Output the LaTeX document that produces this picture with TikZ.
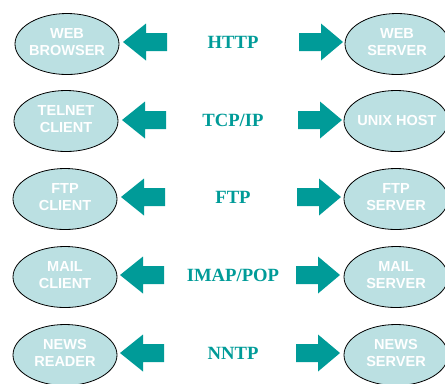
\documentclass[tikz,border=0pt]{standalone}
\usepackage{fontspec}
\setmainfont{Liberation Serif}
\setsansfont{Liberation Sans}
\usetikzlibrary{shapes.geometric}
\definecolor{tealA}{RGB}{0,155,152}
\definecolor{ellfill}{RGB}{187,224,226}
\tikzset{
  ell/.style={ellipse, draw=black, line width=0.6pt, fill=ellfill, minimum width=78pt, minimum height=45.75pt, inner sep=0pt},
  etext/.style={text=white, align=center, font=\sffamily\bfseries\fontsize{10.9pt}{12.75pt}\selectfont, inner sep=0pt},
  proto/.style={text=tealA, font=\rmfamily\bfseries\fontsize{14pt}{16pt}\selectfont, inner sep=0pt},
  larrow/.pic={\fill[tealA] (0,0) -- (23,-18.5) -- (23,-9) -- (44,-9) -- (44,9) -- (23,9) -- (23,18.5) -- cycle;},
  rarrow/.pic={\fill[tealA] (0,0) -- (-22,-18.5) -- (-22,-9) -- (-44,-9) -- (-44,9) -- (-22,9) -- (-22,18.5) -- cycle;}
}
\begin{document}
\begin{tikzpicture}[x=0.75pt,y=-0.75pt]
\useasboundingbox (0,0) rectangle (445,383);
% row 1
\node[ell] (e1l) at (67,44) {};
\node[etext] (t1l) at (67,42) {WEB\\BROWSER};
\node[ell] (e1r) at (397,44) {};
\node[etext] (t1r) at (397,42) {WEB\\SERVER};
\node[proto] (p1) at (233,42) {HTTP};
\pic at (123,42) {larrow};
\pic at (343,42) {rarrow};
% row 2
\node[ell] (e2l) at (66,121) {};
\node[etext] (t2l) at (66,119) {TELNET\\CLIENT};
\node[ell] (e2r) at (396,121) {};
\node[etext] (t2r) at (397,120) {UNIX HOST};
\node[proto] (p2) at (233,120) {TCP/IP};
\pic at (122,120) {larrow};
\pic at (342,120) {rarrow};
% row 3
\node[ell] (e3l) at (65,199) {};
\node[etext] (t3l) at (65,197) {FTP\\CLIENT};
\node[ell] (e3r) at (396,199) {};
\node[etext] (t3r) at (396,197) {FTP\\SERVER};
\node[proto] (p3) at (233,197) {FTP};
\pic at (121,197) {larrow};
\pic at (341,197) {rarrow};
% row 4
\node[ell] (e4l) at (65,277) {};
\node[etext] (t4l) at (65,275) {MAIL\\CLIENT};
\node[ell] (e4r) at (396,277) {};
\node[etext] (t4r) at (396,275) {MAIL\\SERVER};
\node[proto] (p4) at (233,275) {IMAP/POP};
\pic at (120,275) {larrow};
\pic at (340,275) {rarrow};
% row 5
\node[ell] (e5l) at (65,355) {};
\node[etext] (t5l) at (65,353) {NEWS\\READER};
\node[ell] (e5r) at (396,355) {};
\node[etext] (t5r) at (396,353) {NEWS\\SERVER};
\node[proto] (p5) at (233,353) {NNTP};
\pic at (120,353) {larrow};
\pic at (340,353) {rarrow};
\end{tikzpicture}
\end{document}
